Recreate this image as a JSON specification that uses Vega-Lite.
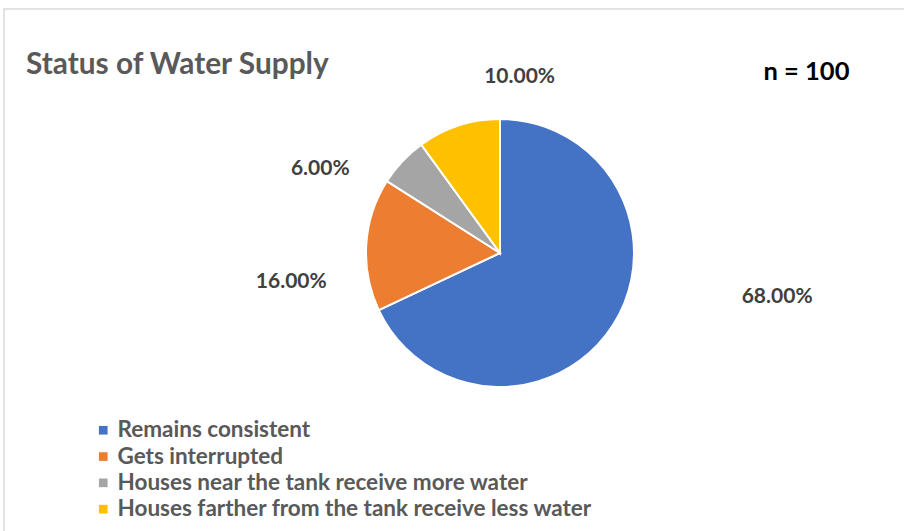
{
  "$schema": "https://vega.github.io/schema/vega-lite/v6.json",
  "width": 906,
  "height": 530,
  "autosize": {"type": "none"},
  "padding": {"left": 4, "top": 9, "right": -6, "bottom": -8},
  "background": "white",
  "title": {
    "text": "Status of Water Supply",
    "anchor": "start",
    "frame": "group",
    "offset": 0,
    "baseline": "alphabetic",
    "dx": 22,
    "dy": 95,
    "font": "Lato",
    "fontWeight": "bold",
    "fontSize": 29.8,
    "color": "#595959"
  },
  "data": {
    "values": [
      {"status": "Remains consistent", "share": 0.68, "rank": 1},
      {"status": "Gets interrupted", "share": 0.16, "rank": 2},
      {"status": "Houses near the tank receive more water", "share": 0.06, "rank": 3},
      {"status": "Houses farther from the tank receive less water", "share": 0.10, "rank": 4}
    ]
  },
  "encoding": {
    "x": {
      "datum": 0,
      "type": "quantitative",
      "scale": {"domain": [-496, 410], "zero": false, "nice": false},
      "axis": {
        "orient": "top",
        "title": "n = 100",
        "domain": false,
        "ticks": false,
        "labels": false,
        "grid": false,
        "titleX": 759,
        "titleY": 70,
        "titleAlign": "left",
        "titleBaseline": "alphabetic",
        "titleFont": "Lato",
        "titleFontWeight": "bold",
        "titleFontSize": 25.5,
        "titleColor": "#000000"
      }
    },
    "y": {
      "datum": 0,
      "type": "quantitative",
      "scale": {"domain": [-286, 244], "zero": false, "nice": false},
      "axis": null
    },
    "theta": {"field": "share", "type": "quantitative", "stack": true},
    "order": {"field": "rank", "type": "quantitative"}
  },
  "layer": [
    {
      "mark": {"type": "arc", "outerRadius": 134, "stroke": "white", "strokeWidth": 2},
      "encoding": {
        "color": {
          "field": "status",
          "type": "nominal",
          "scale": {
            "domain": ["Remains consistent", "Gets interrupted", "Houses near the tank receive more water", "Houses farther from the tank receive less water"],
            "range": ["#4472C4", "#ED7D31", "#A5A5A5", "#FFC000"]
          },
          "legend": {
            "orient": "none",
            "legendX": 88,
            "legendY": 410,
            "title": null,
            "symbolType": "square",
            "symbolSize": 75,
            "symbolStrokeWidth": 0,
            "labelFont": "Lato",
            "labelFontWeight": "bold",
            "labelFontSize": 22.5,
            "labelColor": "#595959",
            "labelOffset": 3,
            "labelLimit": 0,
            "rowPadding": 3.3,
            "padding": 0
          }
        }
      }
    },
    {
      "mark": {"type": "text", "radius": 134, "dx": 164, "dy": -21.5, "align": "center", "baseline": "alphabetic", "font": "Lato", "fontWeight": "bold", "fontSize": 21, "fill": "#404040"},
      "encoding": {"text": {"condition": {"test": "datum.rank == 1", "field": "share", "type": "quantitative", "format": ".2%"}, "value": ""}}
    },
    {
      "mark": {"type": "text", "radius": 134, "dx": -75, "dy": 43.5, "align": "center", "baseline": "alphabetic", "font": "Lato", "fontWeight": "bold", "fontSize": 21, "fill": "#404040"},
      "encoding": {"text": {"condition": {"test": "datum.rank == 2", "field": "share", "type": "quantitative", "format": ".2%"}, "value": ""}}
    },
    {
      "mark": {"type": "text", "radius": 134, "dx": -82, "dy": 14, "align": "center", "baseline": "alphabetic", "font": "Lato", "fontWeight": "bold", "fontSize": 21, "fill": "#404040"},
      "encoding": {"text": {"condition": {"test": "datum.rank == 3", "field": "share", "type": "quantitative", "format": ".2%"}, "value": ""}}
    },
    {
      "mark": {"type": "text", "radius": 134, "dx": 61, "dy": -43, "align": "center", "baseline": "alphabetic", "font": "Lato", "fontWeight": "bold", "fontSize": 21, "fill": "#404040"},
      "encoding": {"text": {"condition": {"test": "datum.rank == 4", "field": "share", "type": "quantitative", "format": ".2%"}, "value": ""}}
    }
  ],
  "config": {
    "view": {"stroke": "#D9D9D9", "strokeWidth": 1.5},
    "font": "Lato"
  }
}
